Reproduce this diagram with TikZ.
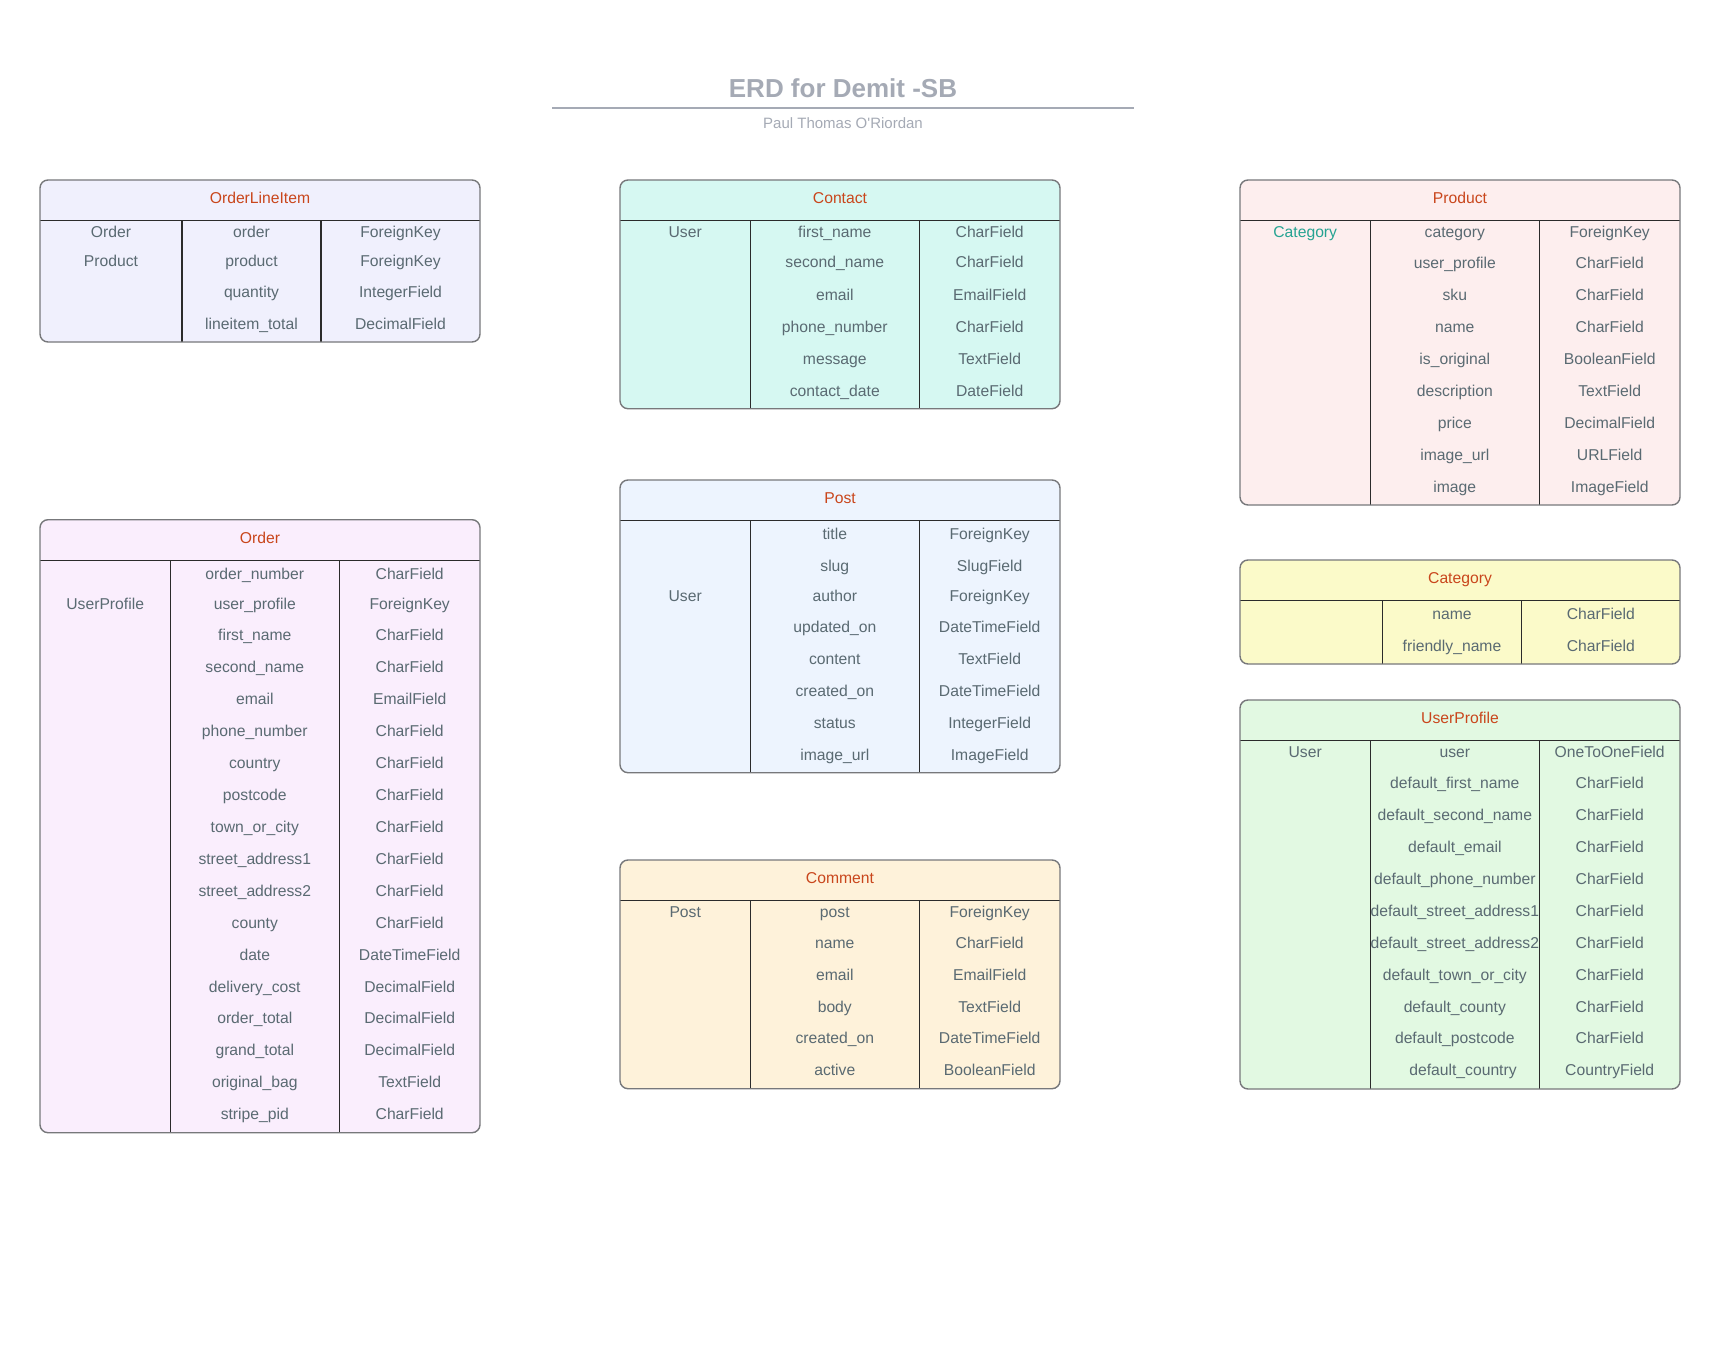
\documentclass[tikz,border=0pt]{standalone}
\usepackage{fontspec}
\setmainfont{Liberation Sans}
\definecolor{titlegray}{HTML}{A5AAB5}
\definecolor{txtgray}{HTML}{5A6A72}
\definecolor{hdrorange}{HTML}{C9461C}
\definecolor{tealtxt}{HTML}{26A392}
\definecolor{bordergray}{HTML}{77787B}
\definecolor{linedark}{HTML}{2B2B2B}
\definecolor{fOLI}{HTML}{F0F0FD}
\definecolor{fContact}{HTML}{D6F8F2}
\definecolor{fProduct}{HTML}{FDEEEE}
\definecolor{fOrder}{HTML}{FAEEFD}
\definecolor{fPost}{HTML}{EDF4FE}
\definecolor{fComment}{HTML}{FEF2DA}
\definecolor{fCategory}{HTML}{FBFAC9}
\definecolor{fUserProfile}{HTML}{E2F9E2}
\tikzset{
  txt/.style={font=\fontsize{15.7}{18}\selectfont, text=txtgray, anchor=base, inner sep=0pt},
  hdrtxt/.style={txt, text=hdrorange},
  divline/.style={draw=linedark, line width=1.1pt},
  frameline/.style={draw=bordergray, line width=1.4pt, rounded corners=8pt},
}
\newcommand{\erdframe}[8]{%
  \fill[#8, rounded corners=8pt] (#1,#3) rectangle (#2,#5);
  \draw[divline] (#1,#4) -- (#2,#4) (#6,#4) -- (#6,#5) (#7,#4) -- (#7,#5);
  \draw[frameline] (#1,#3) rectangle (#2,#5);
}
\newcommand{\erdrows}[4]{%
  \foreach \yy/\bb/\cc [count=\i] in {#4} {
    \node[txt] (#1-f\i) at (#2,\yy+5.5) {\bb};
    \node[txt] (#1-t\i) at (#3,\yy+5.5) {\cc};
  }
}
\begin{document}
\begin{tikzpicture}[x=1pt,y=-1pt]
\useasboundingbox (0,0) rectangle (1719,1359);
\fill[white] (0,0) rectangle (1719,1359);

% Title
\node[anchor=base, inner sep=0pt, font=\bfseries\fontsize{26}{30}\selectfont, text=titlegray] (title) at (843,98) {ERD for Demit -SB};
\draw[draw=titlegray, line width=2pt] (552,107.7) -- (1134,107.7);
\node[anchor=base, inner sep=0pt, font=\fontsize{15}{18}\selectfont, text=titlegray] (author) at (843,128.5) {Paul Thomas O\textquotesingle Riordan};

% OrderLineItem
\erdframe{40}{480}{180}{220.7}{342}{182}{321}{fOLI}
\node[hdrtxt] (oli-h) at (260,203.3) {OrderLineItem};
\node[txt] (oli-k1) at (111,237.8) {Order};
\node[txt] (oli-k2) at (111,266.5) {Product};
\erdrows{oli}{251.5}{400.5}{232.3/order/ForeignKey, 261/product/ForeignKey, 291.7/quantity/IntegerField, 324/lineitem\_total/DecimalField}

% Contact
\erdframe{620}{1060}{180}{220.7}{408.7}{750.3}{919.3}{fContact}
\node[hdrtxt] (con-h) at (840,203.3) {Contact};
\node[txt] (con-k1) at (685.2,237.2) {User};
\erdrows{con}{834.8}{989.7}{231.7/first\_name/CharField, 262.3/second\_name/CharField, 294.7/email/EmailField, 326.7/phone\_number/CharField, 359/message/TextField, 390.7/contact\_date/DateField}

% Product
\erdframe{1240}{1680}{180}{220.7}{505}{1370.3}{1539.3}{fProduct}
\node[hdrtxt] (pro-h) at (1460,203.3) {Product};
\node[txt, text=tealtxt] (pro-k1) at (1305.2,237.5) {Category};
\erdrows{pro}{1454.8}{1609.7}{232/category/ForeignKey, 262.7/user\_profile/CharField, 294.7/sku/CharField, 326.7/name/CharField, 359/is\_original/BooleanField, 391/description/TextField, 423/price/DecimalField, 455/image\_url/URLField, 487/image/ImageField}

% Order
\erdframe{40}{480}{519.7}{560.3}{1132.7}{170.3}{339.3}{fOrder}
\node[hdrtxt] (ord-h) at (260,543.3) {Order};
\node[txt] (ord-k1) at (105.2,609.8) {UserProfile};
\erdrows{ord}{254.8}{409.7}{574/order\_number/CharField, 604.3/user\_profile/ForeignKey, 635/first\_name/CharField, 667/second\_name/CharField, 699/email/EmailField, 731/phone\_number/CharField, 763/country/CharField, 795/postcode/CharField, 826.7/town\_or\_city/CharField, 858.7/street\_address1/CharField, 890.7/street\_address2/CharField, 922.7/county/CharField, 954.7/date/DateTimeField, 986.7/delivery\_cost/DecimalField, 1018.3/order\_total/DecimalField, 1050.3/grand\_total/DecimalField, 1082.3/original\_bag/TextField, 1114.3/stripe\_pid/CharField}

% Post
\erdframe{620}{1060}{480}{520.7}{772.7}{750.3}{919.3}{fPost}
\node[hdrtxt] (pst-h) at (840,503.3) {Post};
\node[txt] (pst-k1) at (685.2,601.5) {User};
\erdrows{pst}{834.8}{989.7}{534/title/ForeignKey, 566/slug/SlugField, 596/author/ForeignKey, 627/updated\_on/DateTimeField, 659/content/TextField, 691/created\_on/DateTimeField, 723/status/IntegerField, 755/image\_url/ImageField}

% Comment
\erdframe{620}{1060}{860}{900.7}{1088.7}{750.3}{919.3}{fComment}
\node[hdrtxt] (com-h) at (840,883.3) {Comment};
\node[txt] (com-k1) at (685.2,917.8) {Post};
\erdrows{com}{834.8}{989.7}{912.3/post/ForeignKey, 942.7/name/CharField, 975/email/EmailField, 1006.7/body/TextField, 1038.3/created\_on/DateTimeField, 1070/active/BooleanField}

% Category
\erdframe{1240}{1680}{560}{600.7}{664}{1382.3}{1521.7}{fCategory}
\node[hdrtxt] (cat-h) at (1460,583.3) {Category};
\erdrows{cat}{1452}{1600.9}{614/name/CharField, 646/friendly\_name/CharField}

% UserProfile
\erdframe{1240}{1680}{700}{740.7}{1089}{1370.3}{1539.3}{fUserProfile}
\node[hdrtxt] (upr-h) at (1460,723.3) {UserProfile};
\node[txt] (upr-k1) at (1305.2,757.8) {User};
\erdrows{upr}{1454.8}{1609.7}{752.3/user/OneToOneField, 782.7/default\_first\_name/CharField, 814.7/default\_second\_name/CharField, 846.7/default\_email/CharField, 878.7/default\_phone\_number/CharField, 910.7/default\_street\_address1/CharField, 942.7/default\_street\_address2/CharField, 974.7/default\_town\_or\_city/CharField, 1006.7/default\_county/CharField, 1038.3/default\_postcode/CharField}
\node[txt] (upr-f11) at (1463,1075.5) {default\_country};
\node[txt] (upr-t11) at (1609.7,1075.5) {CountryField};
\end{tikzpicture}
\end{document}
